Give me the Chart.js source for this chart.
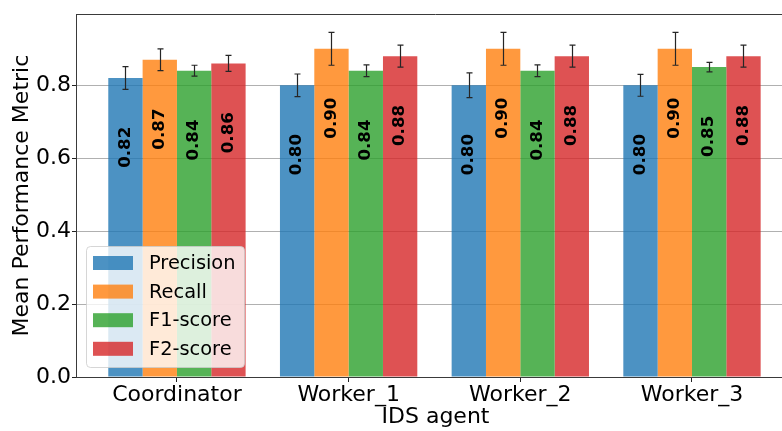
<!DOCTYPE html>
<html>
<head>
<meta charset="utf-8">
<script src="https://cdn.jsdelivr.net/npm/chart.js@4"></script>
<style>
	html, body { margin: 0; padding: 0; background: #fff; overflow: hidden; }
	#wrap { width: 782px; height: 431px; overflow: hidden; }
	#box { width: 800px; height: 431px; }
</style>
</head>
<body>
<div id="wrap"><div id="box"><canvas id="myChart"></canvas></div></div>
<script>
const agents = ['Coordinator', 'Worker_1', 'Worker_2', 'Worker_3'];
const metrics = ['Precision', 'Recall', 'F1-score', 'F2-score'];

// mean scores per agent
const precision = [0.82, 0.80, 0.80, 0.80];
const recall = [0.87, 0.90, 0.90, 0.90];
const f1score = [0.84, 0.84, 0.84, 0.85];
const f2score = [0.86, 0.88, 0.88, 0.88];

// standard deviations (error bars)
const precisionErr = [0.031, 0.031, 0.034, 0.030];
const recallErr = [0.030, 0.045, 0.045, 0.045];
const f1Err = [0.015, 0.016, 0.016, 0.013];
const f2Err = [0.022, 0.030, 0.030, 0.030];

const yTicks = [0.0, 0.2, 0.4, 0.6, 0.8];

const colors = ['rgba(31,119,180,0.8)', 'rgba(255,127,14,0.8)', 'rgba(44,160,44,0.8)', 'rgba(214,39,40,0.8)'];
const allValues = [precision, recall, f1score, f2score];
const allErrors = [precisionErr, recallErr, f1Err, f2Err];

const FONT = "'DejaVu Sans', sans-serif";

function buildDatasets() {
	var sets = [];
	for (var i = 0; i < metrics.length; i++) {
		sets.push({
			label: metrics[i],
			data: allValues[i].map(function (v, j) { return {x: j, y: v}; }),
			backgroundColor: colors[i],
			borderWidth: 0,
			errors: allErrors[i]
		});
	}
	return sets;
}

// error bars with caps
const errorBars = {
	id: 'errorBars',
	afterDatasetsDraw(chart) {
		var ctx = chart.ctx;
		var ys = chart.scales.y;
		ctx.save();
		ctx.strokeStyle = '#262626';
		ctx.lineWidth = 1.2;
		chart.data.datasets.forEach(function (ds, i) {
			var meta = chart.getDatasetMeta(i);
			meta.data.forEach(function (bar, j) {
				var v = ds.data[j].y;
				var e = ds.errors[j];
				var top = ys.getPixelForValue(v + e);
				var bot = ys.getPixelForValue(v - e);
				var x = Math.round(bar.x) + 0.5;
				ctx.beginPath();
				ctx.moveTo(x, top);
				ctx.lineTo(x, bot);
				ctx.moveTo(x - 3, top);
				ctx.lineTo(x + 3, top);
				ctx.moveTo(x - 3, bot);
				ctx.lineTo(x + 3, bot);
				ctx.stroke();
			});
		});
		ctx.restore();
	}
};

// rotated value labels inside bars
const barLabels = {
	id: 'barLabels',
	afterDatasetsDraw(chart) {
		var ctx = chart.ctx;
		var ys = chart.scales.y;
		ctx.save();
		ctx.fillStyle = '#000';
		ctx.font = 'bold 16.7px ' + FONT;
		ctx.textAlign = 'center';
		ctx.textBaseline = 'middle';
		chart.data.datasets.forEach(function (ds, i) {
			var meta = chart.getDatasetMeta(i);
			meta.data.forEach(function (bar, j) {
				var v = ds.data[j].y;
				var y = ys.getPixelForValue(v - 0.19);
				ctx.save();
				ctx.translate(bar.x, y);
				ctx.rotate(-Math.PI / 2);
				ctx.fillText(v.toFixed(2), 0, 0);
				ctx.restore();
			});
		});
		ctx.restore();
	}
};

// top spine + legend box in the lower left
const frameAndLegend = {
	id: 'frameAndLegend',
	afterDraw(chart) {
		var ctx = chart.ctx;
		var area = chart.chartArea;
		ctx.save();
		ctx.strokeStyle = '#3a3a3a';
		ctx.lineWidth = 1;
		ctx.beginPath();
		ctx.moveTo(area.left, Math.round(area.top) + 0.5);
		ctx.lineTo(area.right, Math.round(area.top) + 0.5);
		ctx.stroke();

		var lx = 86.5, ly = 246.5, lw = 158, lh = 121;
		ctx.beginPath();
		ctx.roundRect(lx, ly, lw, lh, 4);
		ctx.fillStyle = 'rgba(255,255,255,0.8)';
		ctx.fill();
		ctx.strokeStyle = 'rgba(204,204,204,0.8)';
		ctx.stroke();

		ctx.font = '19.4px ' + FONT;
		ctx.textBaseline = 'middle';
		ctx.textAlign = 'left';
		chart.data.datasets.forEach(function (ds, i) {
			var cy = 263 + i * 28.6;
			ctx.fillStyle = ds.backgroundColor;
			ctx.fillRect(93, cy - 7, 40, 14);
			ctx.fillStyle = '#000';
			ctx.fillText(ds.label, 149, cy + 1);
		});
		ctx.restore();
	}
};

var ctx = document.getElementById('myChart').getContext('2d');
var chart = new Chart(ctx, {
	type: 'bar',
	data: {
		datasets: buildDatasets()
	},
	options: {
		responsive: true,
		maintainAspectRatio: false,
		animation: false,
		categoryPercentage: 0.8,
		barPercentage: 1.0,
		layout: {
			padding: {top: 12, right: 5, left: 0, bottom: 0}
		},
		plugins: {
			legend: {display: false},
			tooltip: {enabled: false}
		},
		scales: {
			x: {
				type: 'linear',
				offset: false,
				min: -0.588,
				max: 3.6,
				afterFit: function (scale) { scale.height = 54; },
				ticks: {
					stepSize: 1,
					includeBounds: false,
					autoSkip: false,
					maxRotation: 0,
					padding: 0,
					color: '#000',
					font: {family: FONT, size: 22},
					callback: function (v) {
						return Number.isInteger(v) && agents[v] !== undefined ? agents[v] : '';
					}
				},
				grid: {
					offset: false,
					drawOnChartArea: false,
					tickLength: 5,
					tickColor: '#222'
				},
				border: {color: '#3a3a3a', width: 1},
				title: {
					display: true,
					text: 'IDS agent',
					color: '#000',
					font: {family: FONT, size: 22},
					padding: {top: 0, bottom: 1}
				}
			},
			y: {
				min: 0,
				max: 0.995,
				afterFit: function (scale) { scale.width = 76; },
				afterBuildTicks: function (scale) {
					scale.ticks = yTicks.map(function (t) { return {value: t}; });
				},
				ticks: {
					padding: 1,
					color: '#000',
					font: {family: FONT, size: 22},
					callback: function (v) { return v.toFixed(1); }
				},
				grid: {
					color: '#b0b0b0',
					lineWidth: 1,
					tickLength: 4,
					tickColor: '#222'
				},
				border: {color: '#3a3a3a', width: 1},
				title: {
					display: true,
					text: 'Mean Performance Metric',
					color: '#000',
					font: {family: FONT, size: 22},
					padding: {top: 9, bottom: 0}
				}
			}
		}
	},
	plugins: [errorBars, barLabels, frameAndLegend]
});
</script>
</body>
</html>
